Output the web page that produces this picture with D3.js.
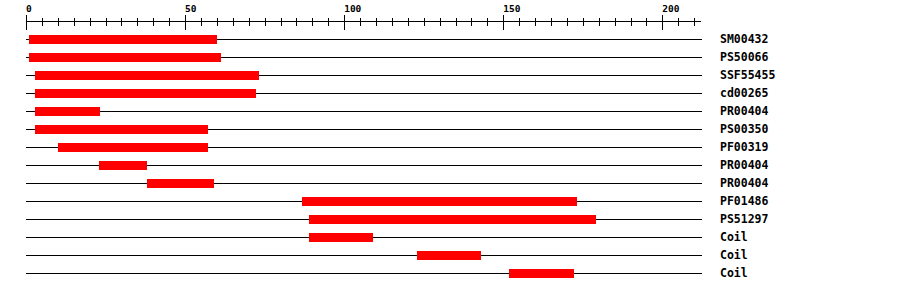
<html>
	<head>
		<script src="https://d3js.org/d3.v7.min.js"></script>
		<style>
			body { margin: 0; background: #fff; }
			text { font-family: "DejaVu Sans Mono", monospace; font-weight: bold; fill: #000; }
		</style>
	</head>
	<body>
		<svg width="900" height="292"></svg>
		<script>

		// feature names, top to bottom
		var names = ["SM00432", "PS50066", "SSF55455", "cd00265", "PR00404", "PS00350", "PF00319",
			"PR00404", "PR00404", "PF01486", "PS51297", "Coil", "Coil", "Coil"];
		// start / end positions on the sequence
		var starts = [1, 1, 3, 3, 3, 3, 10, 23, 38, 87, 89, 89, 123, 152];
		var ends = [60, 61, 73, 72, 23, 57, 57, 38, 59, 173, 179, 109, 143, 172];
		var seqLength = 212;
		var tickLabels = [0, 50, 100, 150, 200];

		var svg = d3.select("svg"),
			axisY = 21.5,
			firstRow = 39.5,
			rowStep = 18;

		var x = d3.scaleLinear().domain([0, seqLength]).range([26.5, 701]);
		var y = function(i) { return firstRow + i * rowStep; };

		var g = svg.append("g").attr("shape-rendering", "crispEdges");

		// ruler
		g.append("line")
			.attr("x1", x(0)).attr("x2", x(seqLength))
			.attr("y1", axisY).attr("y2", axisY)
			.attr("stroke", "#000");

		g.selectAll(".minor")
			.data(x.ticks(42))
			.enter().append("line")
			.attr("x1", function(d) { return x(d); })
			.attr("x2", function(d) { return x(d); })
			.attr("y1", axisY - 4).attr("y2", axisY + 4)
			.attr("stroke", "#000");

		g.selectAll(".major")
			.data(tickLabels)
			.enter().append("line")
			.attr("x1", function(d) { return x(d); })
			.attr("x2", function(d) { return x(d); })
			.attr("y1", axisY - 7).attr("y2", axisY + 8)
			.attr("stroke", "#000");

		svg.selectAll(".ticklabel")
			.data(tickLabels)
			.enter().append("text")
			.attr("x", function(d) { return x(d) - 0.5; })
			.attr("y", 11.5)
			.attr("font-size", "9.5px")
			.text(function(d) { return d; });

		// one row per feature
		var rows = g.selectAll(".row")
			.data(names)
			.enter().append("g");

		rows.append("line")
			.attr("x1", x(0) - 0.5).attr("x2", x(seqLength) + 1)
			.attr("y1", function(d, i) { return y(i); })
			.attr("y2", function(d, i) { return y(i); })
			.attr("stroke", "#000");

		rows.append("rect")
			.attr("x", function(d, i) { return x(starts[i]) - 0.8; })
			.attr("width", function(d, i) { return x(ends[i]) - x(starts[i]) + 0.8; })
			.attr("y", function(d, i) { return y(i) - 4.5; })
			.attr("height", 9)
			.attr("fill", "#ff0000");

		svg.selectAll(".name")
			.data(names)
			.enter().append("text")
			.attr("x", 720)
			.attr("y", function(d, i) { return y(i) + 3.5; })
			.attr("font-size", "11.5px")
			.text(function(d) { return d; });
		</script>
	</body>
</html>
